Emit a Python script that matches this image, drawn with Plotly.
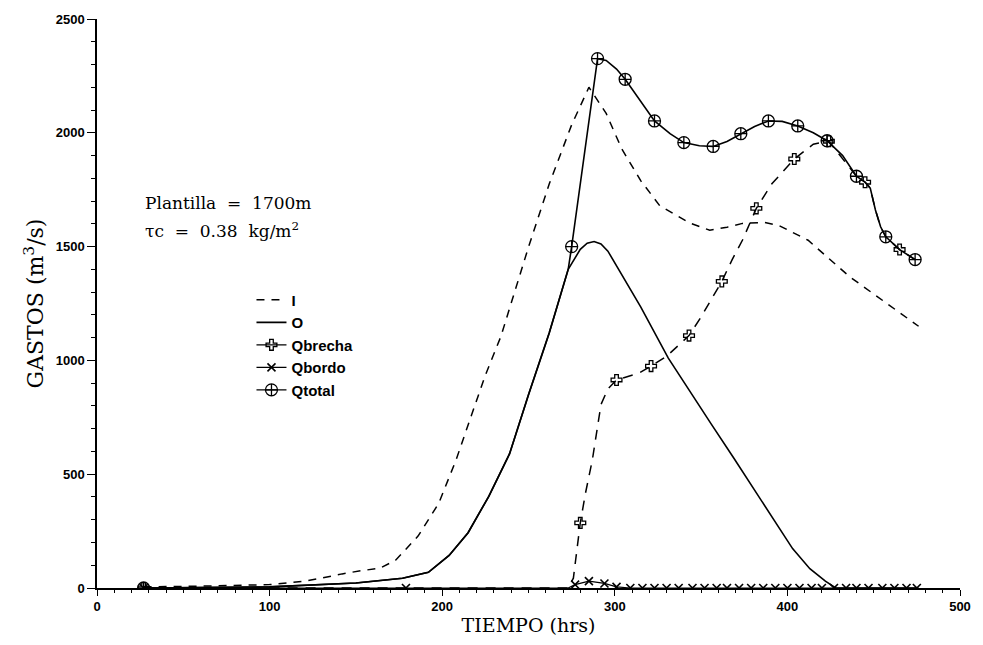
import plotly.graph_objects as go

# ---------------- data ----------------
I_time = [27, 60, 100, 120, 130, 142, 153, 164, 173, 186, 198, 208, 217, 225, 234, 250, 262, 275, 285,
          295, 304, 315, 326, 343, 355, 365, 374, 387, 395, 412, 436, 476]
I_flow = [5, 8, 15, 30, 43, 62, 76, 87, 122, 228, 372, 562, 760, 935, 1105, 1498, 1775, 2035, 2200,
          2085, 1930, 1790, 1680, 1605, 1572, 1585, 1602, 1606, 1593, 1528, 1368, 1150]

O_time = [27, 100, 150, 177, 192, 204, 215, 227, 239, 250, 262, 273, 280, 284, 288, 292, 296, 304,
          315, 331, 345, 356, 369, 382, 393, 403, 413, 422, 428, 476]
O_flow = [0, 5, 22, 43, 69, 143, 243, 403, 589, 849, 1120, 1400, 1488, 1515, 1522, 1512, 1480, 1375,
          1235, 1010, 845, 719, 570, 416, 290, 173, 85, 30, 0, 0]

Qbrecha_time = [27, 273, 276, 280, 283, 287, 292, 296, 301, 314, 321, 330, 343, 350, 362, 368, 374,
                382, 391, 404, 415, 424, 440, 445, 448, 451, 454, 457, 465, 474]
Qbrecha_flow = [0, 0, 43, 286, 416, 563, 806, 875, 914, 944, 975, 1018, 1109, 1191, 1347, 1443, 1529,
                1668, 1776, 1885, 1950, 1963, 1809, 1783, 1757, 1661, 1587, 1543, 1487, 1443]
Qbrecha_mark_time = [27, 280, 301, 321, 343, 362, 382, 404, 424, 445, 465]
Qbrecha_mark_flow = [0, 286, 914, 975, 1109, 1347, 1668, 1885, 1963, 1783, 1487]

Qbordo_time = [27, 179, 273, 277, 285, 294, 301, 309, 475]
Qbordo_flow = [0, 0, 0, 15, 30, 20, 5, 0, 0]
Qbordo_mark_time = [27, 179, 277, 285, 294, 301, 309, 316, 323, 330, 337, 345, 352, 359, 365, 372,
                    379, 386, 393, 400, 407, 414, 420, 427, 434, 440, 447, 455, 462, 469, 475]
Qbordo_mark_flow = [0, 0, 15, 30, 20, 5, 0, 0, 0, 0, 0, 0, 0, 0, 0, 0,
                    0, 0, 0, 0, 0, 0, 0, 0, 0, 0, 0, 0, 0, 0, 0]

Qtotal_time = [27, 100, 150, 177, 192, 204, 215, 227, 239, 250, 262, 273, 275, 290, 295, 301, 306,
               313, 323, 332, 340, 349, 357, 365, 373, 381, 389, 397, 406, 415, 423, 432, 440, 445,
               448, 451, 454, 457, 465, 474]
Qtotal_flow = [0, 5, 22, 43, 69, 143, 243, 403, 589, 849, 1120, 1400, 1500, 2326, 2318, 2280, 2235,
               2161, 2052, 1996, 1957, 1943, 1940, 1962, 1996, 2028, 2052, 2050, 2030, 2000, 1965, 1900,
               1809, 1783, 1757, 1661, 1587, 1543, 1487, 1443]
Qtotal_mark_time = [27, 275, 290, 306, 323, 340, 357, 373, 389, 406, 423, 440, 457, 474]
Qtotal_mark_flow = [0, 1500, 2326, 2235, 2052, 1957, 1940, 1996, 2052, 2030, 1965, 1809, 1543, 1443]

series_names = ["I", "O", "Qbrecha", "Qbordo", "Qtotal"]

# ---------------- styles ----------------
BLACK = "black"
sym_brecha = dict(symbol="cross-open", size=9, color=BLACK, line=dict(color=BLACK, width=1.3))
sym_bordo = dict(symbol="x-thin", size=8, color=BLACK, line=dict(color=BLACK, width=1.6))
sym_total = dict(symbol="circle-cross-open", size=12, color=BLACK, line=dict(color=BLACK, width=1.3))

fig = go.Figure()

# lines
fig.add_trace(go.Scatter(x=I_time, y=I_flow, mode="lines", showlegend=False,
                         line=dict(color=BLACK, width=1.5, dash="8px,7px")))
fig.add_trace(go.Scatter(x=O_time, y=O_flow, mode="lines", showlegend=False,
                         line=dict(color=BLACK, width=1.6)))
fig.add_trace(go.Scatter(x=Qbrecha_time, y=Qbrecha_flow, mode="lines", showlegend=False,
                         line=dict(color=BLACK, width=1.5, dash="10px,8px")))
fig.add_trace(go.Scatter(x=Qbordo_time, y=Qbordo_flow, mode="lines", showlegend=False,
                         line=dict(color=BLACK, width=1.2)))
fig.add_trace(go.Scatter(x=Qtotal_time, y=Qtotal_flow, mode="lines", showlegend=False,
                         line=dict(color=BLACK, width=1.6)))
# markers
fig.add_trace(go.Scatter(x=Qbrecha_mark_time, y=Qbrecha_mark_flow, mode="markers", showlegend=False,
                         marker=sym_brecha))
fig.add_trace(go.Scatter(x=Qbordo_mark_time, y=Qbordo_mark_flow, mode="markers", showlegend=False,
                         marker=sym_bordo))
fig.add_trace(go.Scatter(x=Qtotal_mark_time, y=Qtotal_mark_flow, mode="markers", showlegend=False,
                         marker=sym_total))

# legend entries (no data, style only)
fig.add_trace(go.Scatter(x=[None], y=[None], mode="lines", name=series_names[0],
                         line=dict(color=BLACK, width=1.5, dash="8px,7px")))
fig.add_trace(go.Scatter(x=[None], y=[None], mode="lines", name=series_names[1],
                         line=dict(color=BLACK, width=1.6)))
fig.add_trace(go.Scatter(x=[None], y=[None], mode="lines+markers", name=series_names[2],
                         line=dict(color=BLACK, width=1.3), marker=sym_brecha))
fig.add_trace(go.Scatter(x=[None], y=[None], mode="lines+markers", name=series_names[3],
                         line=dict(color=BLACK, width=1.2), marker=sym_bordo))
fig.add_trace(go.Scatter(x=[None], y=[None], mode="lines+markers", name=series_names[4],
                         line=dict(color=BLACK, width=1.3), marker=sym_total))

tickfont = dict(family="Liberation Sans", size=13, color=BLACK, weight="bold")
serif = "DejaVu Serif"

fig.update_layout(
    width=983, height=645,
    margin=dict(l=97, r=18, t=17, b=53),
    paper_bgcolor="white", plot_bgcolor="white",
    xaxis=dict(range=[0, 500], tick0=0, dtick=100, showgrid=False, zeroline=False,
               showline=True, linecolor=BLACK, linewidth=1.5,
               ticks="outside", ticklen=6, tickwidth=1.3, tickcolor=BLACK,
               minor=dict(dtick=10, ticks="outside", ticklen=3, tickwidth=1, tickcolor=BLACK),
               tickfont=tickfont,
               title=dict(text="TIEMPO (hrs)", font=dict(family=serif, size=19, color=BLACK), standoff=5)),
    yaxis=dict(range=[0, 2500], tick0=0, dtick=500, showgrid=False, zeroline=False,
               showline=True, linecolor=BLACK, linewidth=1.5,
               ticks="outside", ticklen=8, tickwidth=1.3, tickcolor=BLACK,
               minor=dict(dtick=100, ticks="outside", ticklen=4, tickwidth=1, tickcolor=BLACK),
               tickfont=tickfont,
               title=dict(text="GASTOS (m<sup>3</sup>/s)", font=dict(family=serif, size=22, color=BLACK), standoff=6)),
    legend=dict(x=0.179, y=0.535, xanchor="left", yanchor="top", bgcolor="rgba(0,0,0,0)",
                font=dict(family="Liberation Sans", size=15, color=BLACK, weight="bold"),
                tracegroupgap=0),
    annotations=[
        dict(xref="paper", yref="paper", x=0.053, y=0.6765, xanchor="left", yanchor="middle",
             text="Plantilla  =  1700m", showarrow=False,
             font=dict(family=serif, size=17, color=BLACK)),
        dict(xref="paper", yref="paper", x=0.053, y=0.6296, xanchor="left", yanchor="middle",
             text="τc  =  0.38  kg/m<sup>2</sup>", showarrow=False,
             font=dict(family=serif, size=17, color=BLACK)),
    ],
)

fig.write_html("out.html")
